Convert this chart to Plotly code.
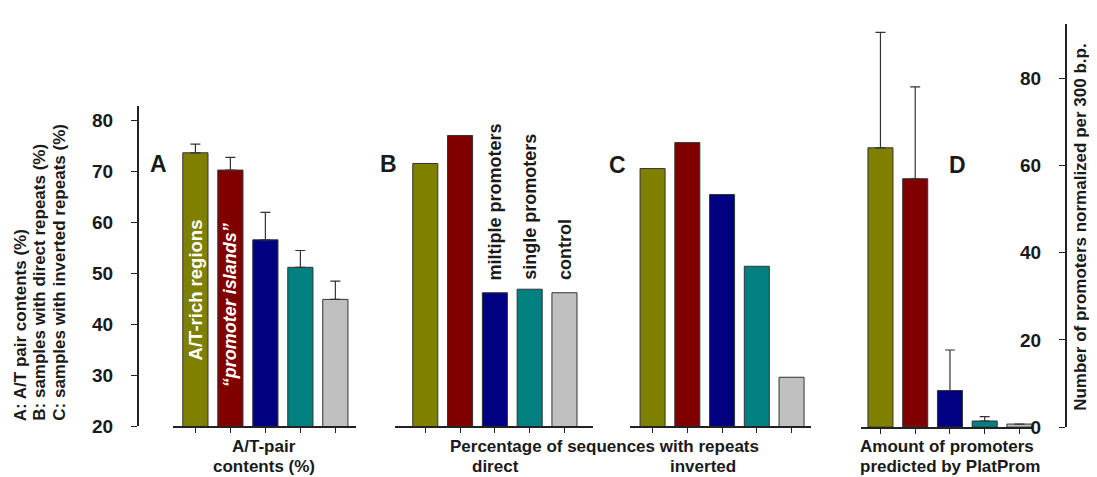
import plotly.graph_objects as go

W, H = 1097, 477

# ---------------- data ----------------
categories = ["A/T-rich regions", "promoter islands", "multiple promoters", "single promoters", "control"]
bar_colors = ["#808000", "#800000", "#000080", "#008080", "#c0c0c0"]

at_content = [73.7, 70.3, 56.6, 51.2, 44.9]          # panel A (%)
at_content_err = [1.7, 2.5, 5.4, 3.3, 3.6]
direct_repeats = [71.6, 77.1, 46.2, 46.9, 46.2]      # panel B (%)
inverted_repeats = [70.6, 75.7, 65.5, 51.4, 29.6]    # panel C (%)
promoters = [64.1, 57.0, 8.4, 1.4, 0.7]             # panel D (per 300 b.p.)
promoters_err = [26.5, 21.1, 9.3, 1.0, 0.0]

left_ticks = [20, 30, 40, 50, 60, 70, 80]
right_ticks = [0, 20, 40, 60, 80]

FONT = "Liberation Sans, Arial, sans-serif"
xs = list(range(len(categories)))


def px_x(p):
    return p / W


def px_y(p):
    return 1 - p / H


fig = go.Figure()


def add_bars(xaxis, yaxis, vals, err=None):
    kw = {}
    if err is not None:
        kw["error_y"] = dict(type="data", symmetric=False, array=err,
                             arrayminus=[0] * len(err), color="#333333",
                             thickness=1.2, width=5)
    fig.add_trace(go.Bar(x=xs, y=vals, width=0.72, xaxis=xaxis, yaxis=yaxis,
                         marker=dict(color=bar_colors,
                                     line=dict(color="#333333", width=1)),
                         showlegend=False, hoverinfo="skip", **kw))


add_bars("x", "y", at_content, at_content_err)
add_bars("x2", "y", direct_repeats)
add_bars("x3", "y", inverted_repeats)
add_bars("x4", "y2", promoters, promoters_err)

xcommon = dict(showline=True, linecolor="#222222", linewidth=2, ticks="outside",
               ticklen=5, tickwidth=1, tickcolor="#222222", tickvals=xs,
               showticklabels=False, showgrid=False, zeroline=False, fixedrange=True)

ycommon = dict(anchor="free", side="left", showline=True, linecolor="#222222",
               linewidth=2, ticks="outside", ticklen=6, tickwidth=1, tickcolor="#222222",
               showgrid=False, zeroline=False, fixedrange=True, ticklabelstandoff=14,
               tickfont=dict(size=19, family=FONT, weight="bold", color="#1a1a1a"))

layout = dict(
    width=W, height=H, autosize=False,
    margin=dict(l=0, r=0, t=0, b=0),
    paper_bgcolor="white", plot_bgcolor="white",
    font=dict(family=FONT, color="#1a1a1a"),
    xaxis=dict(domain=[px_x(165), px_x(348)], range=[-0.64, 4.59], anchor="y", **xcommon),
    xaxis2=dict(domain=[px_x(387), px_x(585)], range=[-0.87, 4.82], anchor="y", **xcommon),
    xaxis3=dict(domain=[px_x(622), px_x(803)], range=[-0.65, 4.56], anchor="y", **xcommon),
    xaxis4=dict(domain=[px_x(853), px_x(1025)], range=[-0.56, 4.39], anchor="y2", **xcommon),
    yaxis=dict(domain=[px_y(428), px_y(100)], range=[20, 82.95], position=px_x(130),
               tickvals=left_ticks, **ycommon),
    yaxis2=dict(domain=[px_y(429), px_y(16)], range=[0, 92.6], position=px_x(1058),
                tickvals=right_ticks, **ycommon),
)
fig.update_layout(**layout)

ann = []


def bold(s, c="#1a1a1a", st="normal"):
    return dict(size=s, family=FONT, weight="bold", color=c, style=st)


# left axis title (three lines)
for text, xc in [("A: A/T pair contents (%)", 12),
                 ("B: samples with direct repeats (%)", 32),
                 ("C: samples with inverted repeats (%)", 52)]:
    ann.append(dict(text=text, x=px_x(xc), y=px_y(425), xref="paper", yref="paper",
                    xanchor="center", yanchor="bottom", textangle=-90, showarrow=False,
                    font=bold(17)))

# right axis title
ann.append(dict(text="Number of promoters normalized per 300 b.p.", x=px_x(1073),
                y=px_y(225), xref="paper", yref="paper", xanchor="center",
                yanchor="middle", textangle=-90, showarrow=False, font=bold(17)))

# panel letters
for letter, cx, cy in [("A", 150, 160), ("B", 380, 160), ("C", 610, 161), ("D", 949, 161)]:
    ann.append(dict(text=letter, x=px_x(cx), y=px_y(cy), xref="paper", yref="paper",
                    xanchor="center", yanchor="middle", showarrow=False, font=bold(23)))

# texts inside panel A bars
ann.append(dict(text="A/T-rich regions", x=0, y=32.5, xref="x", yref="y",
                xanchor="center", yanchor="bottom", textangle=-90, showarrow=False,
                font=bold(18.5, "white")))
ann.append(dict(text="\u201cpromoter islands\u201d", x=1, y=27.3, xref="x", yref="y",
                xanchor="center", yanchor="bottom", textangle=-90, showarrow=False,
                font=bold(18, "white", "italic")))

# labels above panel B bars
for i, label in [(2, "miltiple promoters"), (3, "single promoters"), (4, "control")]:
    ann.append(dict(text=label, x=i, y=48.3, xref="x2", yref="y",
                    xanchor="center", yanchor="bottom", textangle=-90, showarrow=False,
                    font=bold(18)))

# bottom labels
for text, cx, cy, anchor in [("A/T-pair", 256, 449, "center"),
                             ("contents (%)", 256, 469, "center"),
                             ("Percentage of sequences with repeats", 596, 449, "center"),
                             ("direct", 487, 469, "center"),
                             ("inverted", 695, 469, "center"),
                             ("Amount of promoters", 850, 449, "left"),
                             ("predicted by PlatProm", 850, 469, "left")]:
    ann.append(dict(text=text, x=px_x(cx), y=px_y(cy), xref="paper", yref="paper",
                    xanchor=anchor, yanchor="middle", showarrow=False, font=bold(17)))

fig.update_layout(annotations=ann)
fig.write_html("out.html")
